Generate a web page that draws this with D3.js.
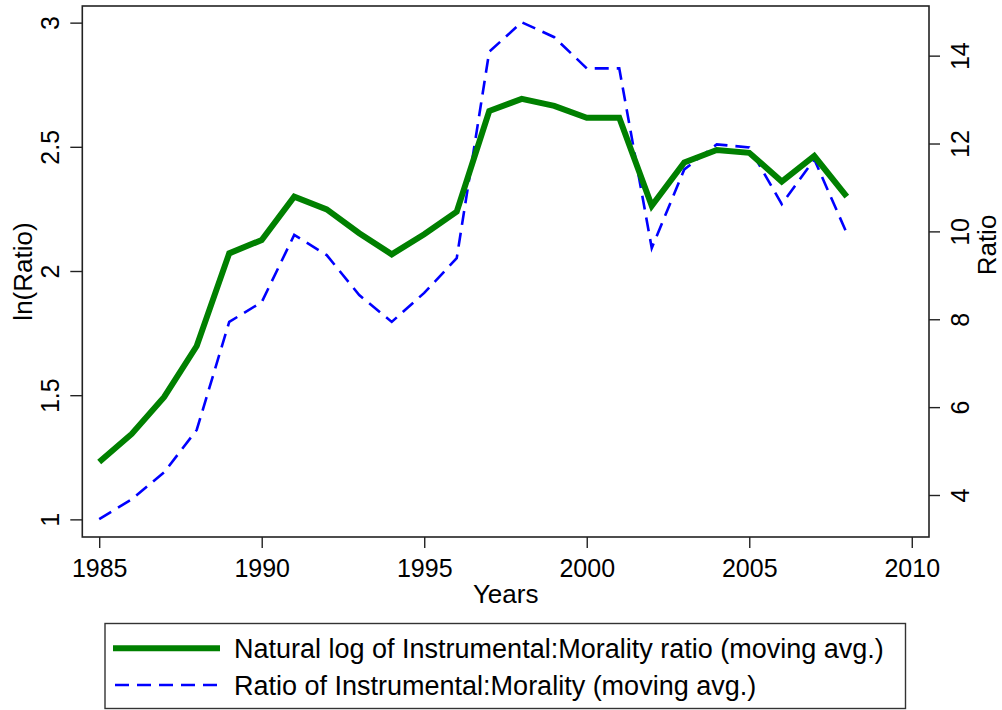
<!DOCTYPE html>
<meta charset="utf-8">
<style>
body { margin: 0; background: #fff; }
text { font-family: "Liberation Sans", Arial, sans-serif; fill: #000; }
</style>
<body>
<script src="https://cdn.jsdelivr.net/npm/d3@7"></script>
<script>
var years = [1985, 1986, 1987, 1988, 1989, 1990, 1991, 1992, 1993, 1994, 1995, 1996,
             1997, 1998, 1999, 2000, 2001, 2002, 2003, 2004, 2005, 2006, 2007, 2008];
var lnRatio = [1.231, 1.344, 1.493, 1.698, 2.071, 2.125, 2.299, 2.248, 2.152, 2.067, 2.148, 2.239,
               2.644, 2.693, 2.665, 2.617, 2.617, 2.263, 2.437, 2.487, 2.476, 2.360, 2.463, 2.299];
var ratio = [3.45, 3.90, 4.52, 5.48, 7.94, 8.39, 9.92, 9.46, 8.55, 7.94, 8.60, 9.39,
             14.09, 14.76, 14.42, 13.71, 13.71, 9.62, 11.41, 11.98, 11.91, 10.62, 11.64, 9.96];
var xTicks = [1985, 1990, 1995, 2000, 2005, 2010],
    leftTicks = [1, 1.5, 2, 2.5, 3],
    rightTicks = [4, 6, 8, 10, 12, 14];
var legendLabels = ["Natural log of Instrumental:Morality ratio (moving avg.)",
                    "Ratio of Instrumental:Morality (moving avg.)"];

var W = 1002, H = 710,
    box = {left: 82.3, right: 929, top: 6, bottom: 537};

var svg = d3.select("body").append("svg")
    .attr("width", W)
    .attr("height", H);

var x = d3.scaleLinear().domain([1984.48, 2010.53]).range([box.left, box.right]);
var yL = d3.scaleLinear().domain([0.929, 3.067]).range([box.bottom, box.top]);
var yR = d3.scaleLinear().domain([3.044, 15.13]).range([box.bottom, box.top]);

// plot box
svg.append("rect")
    .attr("x", box.left).attr("y", box.top)
    .attr("width", box.right - box.left).attr("height", box.bottom - box.top)
    .attr("fill", "none").attr("stroke", "#222").attr("stroke-width", 1.6);

// axes
var gx = svg.append("g")
    .attr("transform", "translate(0," + box.bottom + ")")
    .call(d3.axisBottom(x).tickValues(xTicks).tickFormat(d3.format("d")).tickSize(11).tickPadding(0));
gx.select(".domain").remove();
gx.selectAll("line").attr("stroke", "#222").attr("stroke-width", 1.4);
gx.selectAll("text").attr("y", 40).attr("dy", 0).style("font-size", "25px");

var gl = svg.append("g")
    .attr("transform", "translate(" + box.left + ",0)")
    .call(d3.axisLeft(yL).tickValues(leftTicks).tickFormat(d3.format("")).tickSize(12));
gl.select(".domain").remove();
gl.selectAll("line").attr("stroke", "#222").attr("stroke-width", 1.4);
gl.selectAll("text")
    .attr("transform", "rotate(-90)")
    .attr("x", 0).attr("y", -23).attr("dy", 0)
    .attr("text-anchor", "middle")
    .style("font-size", "25px");

var gr = svg.append("g")
    .attr("transform", "translate(" + box.right + ",0)")
    .call(d3.axisRight(yR).tickValues(rightTicks).tickFormat(d3.format("d")).tickSize(11));
gr.select(".domain").remove();
gr.selectAll("line").attr("stroke", "#222").attr("stroke-width", 1.4);
gr.selectAll("text")
    .attr("transform", "rotate(-90)")
    .attr("x", 0).attr("y", 40).attr("dy", 0)
    .attr("text-anchor", "middle")
    .style("font-size", "25px");

// axis titles
svg.append("text").text("Years")
    .attr("x", (box.left + box.right) / 2).attr("y", 603)
    .attr("text-anchor", "middle").style("font-size", "26px");
svg.append("text").text("ln(Ratio)")
    .attr("transform", "translate(32," + (box.top + box.bottom) / 2 + ") rotate(-90)")
    .attr("text-anchor", "middle").style("font-size", "26px");
svg.append("text").text("Ratio")
    .attr("transform", "translate(996,245) rotate(-90)")
    .attr("text-anchor", "middle").style("font-size", "26px");

// lines
var lineL = d3.line().x(function(d, i) { return x(years[i]); }).y(function(d) { return yL(d); });
var lineR = d3.line().x(function(d, i) { return x(years[i]); }).y(function(d) { return yR(d); });

svg.append("path").datum(ratio)
    .attr("d", lineR)
    .attr("fill", "none").attr("stroke", "#0000ff")
    .attr("stroke-width", 2.6).attr("stroke-dasharray", "14,8");

svg.append("path").datum(lnRatio)
    .attr("d", lineL)
    .attr("fill", "none").attr("stroke", "#008000")
    .attr("stroke-width", 6).attr("stroke-linejoin", "miter");

// legend
var leg = svg.append("g");
leg.append("rect")
    .attr("x", 105).attr("y", 623.5)
    .attr("width", 800.5).attr("height", 85)
    .attr("fill", "#fff").attr("stroke", "#333").attr("stroke-width", 1.4);
leg.append("line")
    .attr("x1", 113).attr("x2", 220).attr("y1", 648.3).attr("y2", 648.3)
    .attr("stroke", "#008000").attr("stroke-width", 6);
leg.append("line")
    .attr("x1", 115).attr("x2", 220).attr("y1", 685).attr("y2", 685)
    .attr("stroke", "#0000ff").attr("stroke-width", 2.6).attr("stroke-dasharray", "14,8");
leg.selectAll("text.lab").data(legendLabels).enter()
    .append("text").attr("class", "lab")
    .text(function(d) { return d; })
    .attr("x", 234)
    .attr("y", function(d, i) { return 658 + i * 37; })
    .style("font-size", "27px");
</script>
</body>
